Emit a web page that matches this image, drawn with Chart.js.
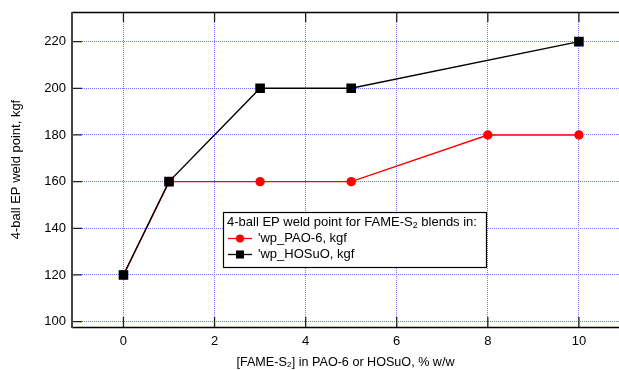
<!DOCTYPE html>
<html>
<head>
<meta charset="utf-8">
<script src="https://cdn.jsdelivr.net/npm/chart.js@4/dist/chart.umd.min.js"></script>
<style>
html,body{margin:0;padding:0;background:#fff;}
#wrap{width:619px;height:370px;position:relative;}
</style>
</head>
<body>
<div id="wrap"><canvas id="c" width="619" height="370"></canvas></div>
<script>
const xPAO = [0, 1, 3, 5, 8, 10];
const yPAO = [120, 160, 160, 160, 180, 180];
const xHOSuO = [0, 1, 3, 5, 10];
const yHOSuO = [120, 160, 200, 200, 220];
const xTicks = [0, 2, 4, 6, 8, 10];
const yTicks = [100, 120, 140, 160, 180, 200, 220];
const labelPAO = "'wp_PAO-6, kgf";
const labelHOSuO = "'wp_HOSuO, kgf";
const legendTitle = ["4-ball EP weld point for FAME-S", "2", " blends in:"];
const xTitle = "[FAME-S\u2082] in PAO-6 or HOSuO, % w/w";
const yTitle = "4-ball EP weld point, kgf";

const FONT = "Liberation Sans, Arial, sans-serif";

const framePlugin = {
  id: 'frame',
  beforeDatasetsDraw(chart) {
    const ctx = chart.ctx, a = chart.chartArea;
    const xs = chart.scales.x, ys = chart.scales.y;
    ctx.save();
    ctx.strokeStyle = '#222';
    ctx.lineWidth = 1.3;
    ctx.beginPath();
    xs.ticks.forEach(t => {
      const px = xs.getPixelForValue(t.value);
      ctx.moveTo(px, a.bottom); ctx.lineTo(px, a.bottom - 10);
      ctx.moveTo(px, a.top); ctx.lineTo(px, a.top + 10);
    });
    ys.ticks.forEach(t => {
      const py = ys.getPixelForValue(t.value);
      ctx.moveTo(a.left, py); ctx.lineTo(a.left + 10, py);
    });
    ctx.stroke();
    ctx.lineWidth = 1.5;
    ctx.strokeStyle = '#000';
    ctx.beginPath();
    ctx.moveTo(a.right, a.top + 0.5); ctx.lineTo(a.left, a.top + 0.5);
    ctx.moveTo(a.left, a.bottom + 0.5); ctx.lineTo(a.right, a.bottom + 0.5);
    ctx.stroke();
    ctx.lineWidth = 2;
    ctx.strokeStyle = '#444';
    ctx.beginPath();
    ctx.moveTo(a.left, a.top); ctx.lineTo(a.left, a.bottom + 1);
    ctx.stroke();
    ctx.restore();
  },
  afterDatasetsDraw(chart) {
    const ctx = chart.ctx;
    ctx.save();
    const bx = 223.5, by = 212.5, bw = 263, bh = 55;
    ctx.fillStyle = '#fff';
    ctx.fillRect(bx, by, bw, bh);
    ctx.strokeStyle = '#000';
    ctx.lineWidth = 1.2;
    ctx.strokeRect(bx, by, bw, bh);
    ctx.fillStyle = '#000';
    ctx.font = '13px ' + FONT;
    ctx.textBaseline = 'middle';
    ctx.textAlign = 'left';
    let tx = 227, ty = 222;
    ctx.fillText(legendTitle[0], tx, ty);
    tx += ctx.measureText(legendTitle[0]).width;
    ctx.font = '9px ' + FONT;
    ctx.fillText(legendTitle[1], tx, ty + 4);
    tx += ctx.measureText(legendTitle[1]).width;
    ctx.font = '13px ' + FONT;
    ctx.fillText(legendTitle[2], tx, ty);
    const entries = [
      {label: labelPAO, color: '#ff0000', style: 'circle'},
      {label: labelHOSuO, color: '#000000', style: 'rect'}
    ];
    entries.forEach((e, i) => {
      const y = 238.5 + i * 16;
      ctx.strokeStyle = e.color;
      ctx.lineWidth = 1.3;
      ctx.beginPath(); ctx.moveTo(228, y); ctx.lineTo(252, y); ctx.stroke();
      ctx.fillStyle = e.color;
      if (e.style === 'circle') {
        ctx.beginPath(); ctx.arc(240, y, 4, 0, Math.PI * 2); ctx.fill();
      } else {
        ctx.fillRect(236, y - 4, 8, 8);
      }
      ctx.fillStyle = '#000';
      ctx.fillText(e.label, 258, y);
    });
    ctx.restore();
  }
};

new Chart(document.getElementById('c'), {
  type: 'scatter',
  data: {
    datasets: [
      {
        label: labelHOSuO,
        data: xHOSuO.map((x, i) => ({x, y: yHOSuO[i]})),
        showLine: true,
        borderColor: '#000000',
        backgroundColor: '#000000',
        borderWidth: 1.4,
        pointStyle: 'rect',
        pointRadius: 5.8,
        pointHoverRadius: 5.8,
        order: 0
      },
      {
        label: labelPAO,
        data: xPAO.map((x, i) => ({x, y: yPAO[i]})),
        showLine: true,
        borderColor: '#ff0000',
        backgroundColor: '#ff0000',
        borderWidth: 1.4,
        pointStyle: 'circle',
        pointRadius: 4,
        pointHoverRadius: 4,
        order: 1
      }
    ]
  },
  options: {
    responsive: false,
    animation: false,
    layout: {autoPadding: false, padding: {top: 12, right: 0, left: 0, bottom: 0}},
    plugins: {legend: {display: false}, tooltip: {enabled: false}},
    scales: {
      x: {
        type: 'linear',
        min: -1.13,
        max: 10.88,
        afterBuildTicks: s => { s.ticks = xTicks.map(v => ({value: v})); },
        afterFit: s => { s.height = 43; s.paddingLeft = 0; s.paddingRight = 0; },
        border: {display: false, dash: [1, 1]},
        grid: {color: '#7878ff', lineWidth: 1, drawTicks: false},
        ticks: {color: '#000', font: {family: FONT, size: 13}, padding: 7, maxRotation: 0},
        title: {display: true, text: xTitle, color: '#000', font: {family: FONT, size: 12.6}, padding: {top: 0, bottom: 0}}
      },
      y: {
        type: 'linear',
        min: 97.7,
        max: 232.7,
        afterBuildTicks: s => { s.ticks = yTicks.map(v => ({value: v})); },
        afterFit: s => { s.width = 72; s.paddingTop = 0; s.paddingBottom = 0; },
        border: {display: false, dash: [1, 1]},
        grid: {color: '#7878ff', lineWidth: 1, drawTicks: false},
        ticks: {color: '#000', font: {family: FONT, size: 13}, padding: 6},
        title: {display: true, text: yTitle, color: '#000', font: {family: FONT, size: 13}, padding: {top: 9, bottom: 0}}
      }
    }
  },
  plugins: [framePlugin]
});
</script>
</body>
</html>
